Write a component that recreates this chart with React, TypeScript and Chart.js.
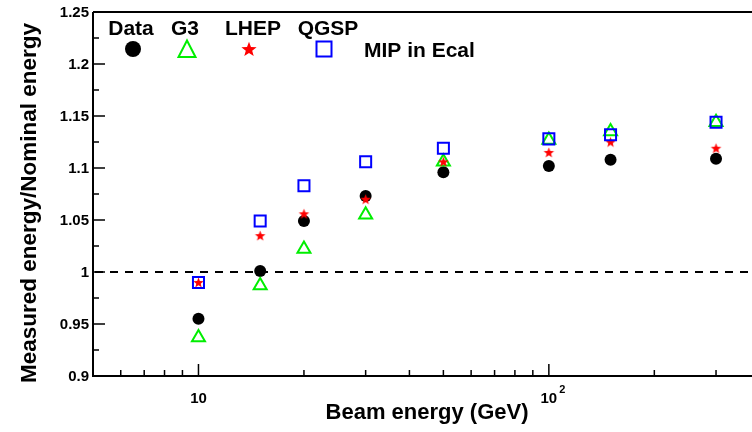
import React, { useEffect, useRef } from "react";
import { Chart, registerables } from "chart.js";

Chart.register(...registerables);

// ---- Data ----
const energies = [10, 15, 20, 30, 50, 100, 150, 300];
const dataValues = [0.955, 1.001, 1.049, 1.073, 1.096, 1.102, 1.108, 1.109];
const g3Values = [0.937, 0.987, 1.022, 1.055, 1.106, 1.127, 1.135, 1.144];
const lhepValues = [0.99, 1.035, 1.056, 1.07, 1.106, 1.115, 1.125, 1.119];
const qgspValues = [0.99, 1.049, 1.083, 1.106, 1.119, 1.128, 1.132, 1.144];

const legendLabels = ["Data", "G3", "LHEP", "QGSP"];
const legendNote = "MIP in Ecal";
const xTitle = "Beam energy (GeV)";
const yTitle = "Measured energy/Nominal energy";

const yMajorTicks = [0.9, 0.95, 1, 1.05, 1.1, 1.15, 1.2, 1.25];
const yMinorTicks = [0.925, 0.975, 1.025, 1.075, 1.125, 1.175, 1.225];
const xMajorTicks = [10, 100];
const xMinorTicks = [5, 6, 7, 8, 9, 20, 30, 40, 50, 60, 70, 80, 90, 200, 300];
const referenceLevel = 1;

const X_MIN = 5;
const X_MAX = 380;
const Y_MIN = 0.9;
const Y_MAX = 1.25;

const FONT = '"Liberation Sans", Arial, Helvetica, sans-serif';

function makeStar(outer: number, color: string): HTMLCanvasElement {
  const size = Math.ceil(outer * 2 + 2);
  const c = document.createElement("canvas");
  c.width = size;
  c.height = size;
  const ctx = c.getContext("2d")!;
  const cx = size / 2;
  const cy = size / 2 + outer * 0.08;
  const inner = outer * 0.42;
  ctx.beginPath();
  for (let i = 0; i < 10; i++) {
    const r = i % 2 === 0 ? outer : inner;
    const a = -Math.PI / 2 + (i * Math.PI) / 5;
    const px = cx + r * Math.cos(a);
    const py = cy + r * Math.sin(a);
    if (i === 0) ctx.moveTo(px, py);
    else ctx.lineTo(px, py);
  }
  ctx.closePath();
  ctx.fillStyle = color;
  ctx.fill();
  return c;
}

function drawStar(ctx: CanvasRenderingContext2D, x: number, y: number, outer: number, color: string) {
  const inner = outer * 0.42;
  ctx.beginPath();
  for (let i = 0; i < 10; i++) {
    const r = i % 2 === 0 ? outer : inner;
    const a = -Math.PI / 2 + (i * Math.PI) / 5;
    const px = x + r * Math.cos(a);
    const py = y + outer * 0.08 + r * Math.sin(a);
    if (i === 0) ctx.moveTo(px, py);
    else ctx.lineTo(px, py);
  }
  ctx.closePath();
  ctx.fillStyle = color;
  ctx.fill();
}

const axesPlugin = {
  id: "rootAxes",
  beforeDatasetsDraw(chart: any) {
    const { ctx, chartArea, scales } = chart;
    const y = scales.y.getPixelForValue(referenceLevel);
    ctx.save();
    ctx.strokeStyle = "#000";
    ctx.lineWidth = 2;
    ctx.setLineDash([8, 7]);
    ctx.beginPath();
    ctx.moveTo(chartArea.left + 2, y);
    ctx.lineTo(chartArea.right, y);
    ctx.stroke();
    ctx.restore();
  },
  afterDraw(chart: any) {
    const { ctx, chartArea, scales } = chart;
    const xs = scales.x;
    const ys = scales.y;
    const L = chartArea.left;
    const R = chartArea.right;
    const T = chartArea.top;
    const B = chartArea.bottom;
    ctx.save();
    ctx.strokeStyle = "#000";
    ctx.lineWidth = 2;
    ctx.setLineDash([]);
    // frame
    ctx.beginPath();
    ctx.moveTo(L, T);
    ctx.lineTo(R, T);
    ctx.moveTo(L, T);
    ctx.lineTo(L, B);
    ctx.lineTo(R, B);
    ctx.stroke();

    // y ticks
    ctx.lineWidth = 1.5;
    ctx.beginPath();
    yMajorTicks.forEach((v) => {
      const p = ys.getPixelForValue(v);
      ctx.moveTo(L, p);
      ctx.lineTo(L + 12, p);
    });
    yMinorTicks.forEach((v) => {
      const p = ys.getPixelForValue(v);
      ctx.moveTo(L, p);
      ctx.lineTo(L + 6, p);
    });
    // x ticks
    xMajorTicks.forEach((v) => {
      const p = xs.getPixelForValue(v);
      ctx.moveTo(p, B);
      ctx.lineTo(p, B - 12);
    });
    xMinorTicks.forEach((v) => {
      const p = xs.getPixelForValue(v);
      ctx.moveTo(p, B);
      ctx.lineTo(p, B - 6);
    });
    ctx.stroke();

    // y tick labels
    ctx.fillStyle = "#000";
    ctx.font = `bold 15px ${FONT}`;
    ctx.textAlign = "right";
    ctx.textBaseline = "middle";
    yMajorTicks.forEach((v) => {
      const p = ys.getPixelForValue(v);
      ctx.fillText(String(v), L - 4, p + 1);
    });

    // x tick labels
    ctx.textAlign = "center";
    ctx.textBaseline = "alphabetic";
    xMajorTicks.forEach((v) => {
      const p = xs.getPixelForValue(v);
      const exp = Math.round(Math.log10(v));
      ctx.font = `bold 15px ${FONT}`;
      ctx.fillText("10", p, B + 27);
      if (exp > 1) {
        const w = ctx.measureText("10").width;
        ctx.font = `bold 11px ${FONT}`;
        ctx.textAlign = "left";
        ctx.fillText(String(exp), p + w / 2 + 2, B + 17);
        ctx.textAlign = "center";
      }
    });

    // axis titles
    ctx.font = `bold 22px ${FONT}`;
    ctx.textAlign = "center";
    ctx.textBaseline = "alphabetic";
    ctx.fillText(xTitle, 427, 419);
    ctx.save();
    ctx.translate(36, 203);
    ctx.rotate(-Math.PI / 2);
    ctx.font = `bold 22.5px ${FONT}`;
    ctx.fillText(yTitle, 0, 0);
    ctx.restore();

    // legend
    ctx.font = `bold 21px ${FONT}`;
    ctx.textAlign = "center";
    const labelX = [131, 185, 253, 328];
    legendLabels.forEach((t, i) => ctx.fillText(t, labelX[i], 35));
    const my = 49;
    // circle
    ctx.beginPath();
    ctx.arc(133, my, 8, 0, Math.PI * 2);
    ctx.fillStyle = "#000";
    ctx.fill();
    // triangle
    ctx.beginPath();
    ctx.moveTo(187, my - 8.5);
    ctx.lineTo(195.5, my + 8);
    ctx.lineTo(178.5, my + 8);
    ctx.closePath();
    ctx.strokeStyle = "#00ee00";
    ctx.lineWidth = 2;
    ctx.stroke();
    // star
    drawStar(ctx, 249, my, 8, "#ff0000");
    // square
    ctx.strokeStyle = "#0000ff";
    ctx.lineWidth = 2;
    ctx.strokeRect(324 - 7.5, my - 7.5, 15, 15);
    // note
    ctx.fillStyle = "#000";
    ctx.textAlign = "left";
    ctx.font = `bold 21px ${FONT}`;
    ctx.fillText(legendNote, 364, 57);
    ctx.restore();
  },
};

export default function App() {
  const ref = useRef<HTMLCanvasElement | null>(null);
  useEffect(() => {
    if (!ref.current) return;
    const star = makeStar(5.5, "#ff0000");
    const pts = (vals: number[]) => energies.map((e, i) => ({ x: e, y: vals[i] }));
    const chart = new Chart(ref.current, {
      type: "scatter",
      data: {
        datasets: [
          {
            label: legendLabels[0],
            data: pts(dataValues),
            pointStyle: "circle",
            pointRadius: 6,
            pointBorderWidth: 0,
            pointBackgroundColor: "#000",
            pointBorderColor: "#000",
            order: 4,
          },
          {
            label: legendLabels[1],
            data: pts(g3Values),
            pointStyle: "triangle",
            pointRadius: 7.5,
            pointBorderWidth: 2,
            pointBackgroundColor: "rgba(0,0,0,0)",
            pointBorderColor: "#00ee00",
            order: 3,
          },
          {
            label: legendLabels[2],
            data: pts(lhepValues),
            pointStyle: star as any,
            pointRadius: 6,
            pointBackgroundColor: "#ff0000",
            pointBorderColor: "#ff0000",
            order: 2,
          },
          {
            label: legendLabels[3],
            data: pts(qgspValues),
            pointStyle: "rect",
            pointRadius: 7.8,
            pointBorderWidth: 2,
            pointBackgroundColor: "rgba(0,0,0,0)",
            pointBorderColor: "#0000ff",
            order: 1,
          },
        ],
      },
      options: {
        responsive: false,
        animation: false,
        devicePixelRatio: 1,
        layout: { autoPadding: false, padding: { top: 12, right: 0, left: 0, bottom: 0 } },
        plugins: {
          legend: { display: false },
          tooltip: { enabled: false },
          title: { display: false },
        },
        scales: {
          x: {
            type: "logarithmic",
            min: X_MIN,
            max: X_MAX,
            grid: { display: false },
            border: { display: false },
            ticks: { display: false },
            afterFit: (s: any) => {
              s.height = 56;
            },
          },
          y: {
            type: "linear",
            min: Y_MIN,
            max: Y_MAX,
            grid: { display: false },
            border: { display: false },
            ticks: { display: false },
            afterFit: (s: any) => {
              s.width = 93;
            },
          },
        },
      },
      plugins: [axesPlugin],
    });
    return () => chart.destroy();
  }, []);
  return (
    <div style={{ position: "fixed", left: 0, top: 0, width: 752, height: 432, background: "#fff" }}>
      <canvas ref={ref} width={752} height={432} style={{ display: "block", width: 752, height: 432 }} />
    </div>
  );
}
